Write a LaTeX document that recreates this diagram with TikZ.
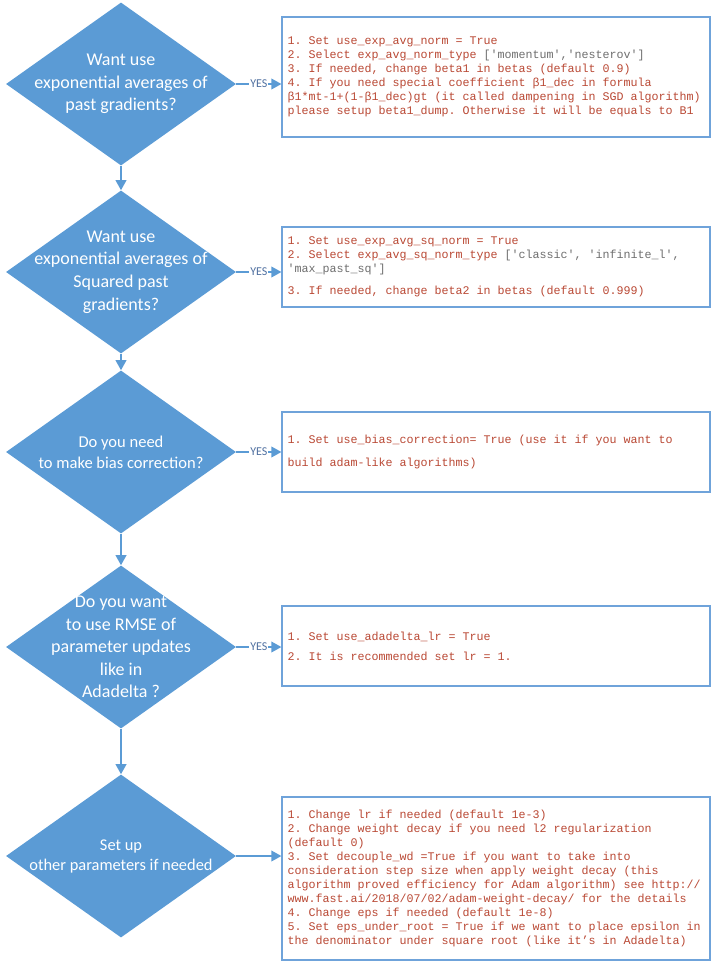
\documentclass[tikz,border=0pt]{standalone}
\usepackage{fontspec}
\setmainfont{Carlito}
\setmonofont{Liberation Mono}
\usetikzlibrary{shapes.geometric,arrows.meta}
\definecolor{diablue}{HTML}{5B9BD5}
\definecolor{noteline}{HTML}{6FA3DA}
\definecolor{notered}{RGB}{185,72,52}
\definecolor{listgrey}{RGB}{110,110,110}
\definecolor{yesblue}{RGB}{80,112,160}
\begin{document}
\begin{tikzpicture}[x=0.75pt,y=-0.75pt,
    question/.style={diamond, fill=diablue, minimum width=172.5pt,
        minimum height=122.25pt, inner sep=0pt},
    qtext/.style={text=white, align=center, font=\fontsize{13.5}{16.9}\selectfont},
    note/.style={draw=noteline, line width=0.9pt, text width=312.5pt,
        inner xsep=4.25pt, align=left, minimum height=60pt, text=notered,
        font=\ttfamily\fontsize{8.75}{10.5}\selectfont,
        execute at begin node={\spaceskip=0.6em\xspaceskip=0.6em\relax}},
    flow/.style={draw=diablue, line width=1.1pt,
        -{Triangle[length=7.5pt,width=8pt]}},
    yes/.style={fill=white, inner sep=0.8pt, text=yesblue,
        font=\fontsize{9}{10}\selectfont}]
    \useasboundingbox (0,0) rectangle (715,962);
    % questions
    \node[question] (d1) at (121,84) {};
    \node[question] (d2) at (121,272) {};
    \node[question] (d3) at (121,452) {};
    \node[question] (d4) at (121,647) {};
    \node[question] (d5) at (121,856) {};
    \node[qtext] (q1) at (d1) {Want use\\exponential averages of\\past gradients?};
    \node[qtext] (q2) at (d2) {Want use\\exponential averages of\\Squared past\\gradients?};
    \node[qtext, font=\fontsize{12.4}{15.8}\selectfont] (q3) at (d3)
        {Do you need\\to make bias correction?};
    \node[qtext] (q4) at (d4) {Do you want\\to use RMSE of\\parameter updates\\like in\\Adadelta ?};
    \node[qtext, font=\fontsize{12.3}{15}\selectfont] (q5) at (d5)
        {Set up\\other parameters if needed};
    % notes
    \node[note, minimum height=90pt] (b1) at (496,77) {1. Set use\_exp\_avg\_norm = True\\
        2. Select exp\_avg\_norm\_type {\color{listgrey}['momentum','nesterov']}\\
        3. If needed, change beta1 in betas (default 0.9)\\
        4. If you need special coefficient β1\_dec in formula\\
        β1*mt-1+(1-β1\_dec)gt (it called dampening in SGD algorithm)\\
        please setup beta1\_dump. Otherwise it will be equals to B1};
    \node[note] (b2) at (496,267) {1. Set use\_exp\_avg\_sq\_norm = True\\
        2. Select exp\_avg\_sq\_norm\_type {\color{listgrey}['classic', 'infinite\_l',}\\
        {\color{listgrey}'max\_past\_sq']}\\[6pt]
        3. If needed, change beta2 in betas (default 0.999)};
    \node[note] (b3) at (496,452) {1. Set use\_bias\_correction= True (use it if you want to\\[6.75pt]
        build adam-like algorithms)};
    \node[note] (b4) at (496,646) {1. Set use\_adadelta\_lr = True\\[4.5pt]
        2. It is recommended set lr = 1.};
    \node[note, minimum height=122.25pt] (b5) at (496,878.5) {1. Change lr if needed (default 1e-3)\\
        2. Change weight decay if you need l2 regularization\\
        (default 0)\\
        3. Set decouple\_wd =True if you want to take into\\
        consideration step size when apply weight decay (this\\
        algorithm proved efficiency for Adam algorithm) see http://\\
        www.fast.ai/2018/07/02/adam-weight-decay/ for the details\\
        4. Change eps if needed (default 1e-8)\\
        5. Set eps\_under\_root = True if we want to place epsilon in\\
        the denominator under square root (like it’s in Adadelta)};
    % connectors
    \draw[flow] (d1.south) -- (d2.north);
    \draw[flow] (d2.south) -- (d3.north);
    \draw[flow] (d3.south) -- (d4.north);
    \draw[flow] (d4.south) -- (d5.north);
    \draw[flow] (d1.east) -- (d1.east -| b1.west) node[yes, midway] {YES};
    \draw[flow] (d2.east) -- (d2.east -| b2.west) node[yes, midway] {YES};
    \draw[flow] (d3.east) -- (d3.east -| b3.west) node[yes, midway] {YES};
    \draw[flow] (d4.east) -- (d4.east -| b4.west) node[yes, midway] {YES};
    \draw[flow] (d5.east) -- (d5.east -| b5.west);
\end{tikzpicture}
\end{document}
